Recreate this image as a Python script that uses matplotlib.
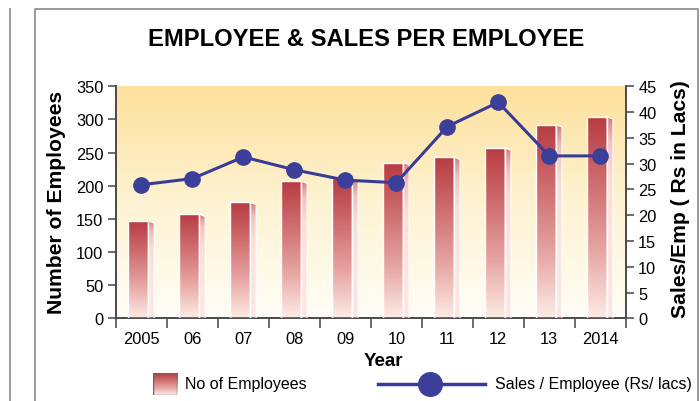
import numpy as np
import matplotlib
matplotlib.use("Agg")
import matplotlib.pyplot as plt
from matplotlib.patches import Polygon, Rectangle
from matplotlib.lines import Line2D
from matplotlib.colors import LinearSegmentedColormap

plt.rcParams['font.family'] = ['Liberation Sans', 'DejaVu Sans']

# ---- data ----
years = ["2005", "06", "07", "08", "09", "10", "11", "12", "13", "2014"]
employees = [147, 157, 175, 207, 211, 235, 243, 257, 292, 304]
sales_per_emp = [25.9, 27.1, 31.3, 28.8, 26.8, 26.3, 37.2, 41.9, 31.5, 31.5]

W, H = 700, 402
fig = plt.figure(figsize=(W / 100, H / 100), dpi=100)
fig.patch.set_facecolor("white")

def fx(px):
    return px / W

def fy(py):
    return 1 - py / H

# panel borders
fig.add_artist(Line2D([fx(9.5), fx(9.5)], [fy(10), 0], color="#8a8a8a", lw=1.2))
fig.add_artist(Line2D([fx(34.5), fx(34.5), fx(698), fx(698)], [0, fy(9.5), fy(9.5), 0],
                      color="#8a8a8a", lw=1.2))

ax_l, ax_r, ax_t, ax_b = 116, 625.7, 87.3, 319.3
ax = fig.add_axes([fx(ax_l), fy(ax_b), fx(ax_r - ax_l), (ax_b - ax_t) / H])

# background gradient
bg_cmap = LinearSegmentedColormap.from_list("bg", ["#fffdf6", "#fef3d2", "#fde09c"])
grad = np.linspace(0, 1, 256).reshape(-1, 1)
ax.imshow(grad, cmap=bg_cmap, aspect="auto", extent=[0, 1, 0, 1],
          transform=ax.transAxes, origin="lower", zorder=0)

x = np.arange(len(years))
ax.set_xlim(-0.5, len(years) - 0.5)
ax.set_ylim(0, 350)

front_cmap = LinearSegmentedColormap.from_list("front", ["#fdebe6", "#e6a5a3", "#cf6e70", "#b63b43"])
side_cmap = LinearSegmentedColormap.from_list("side", ["#fde6e0", "#fbdcd6", "#f1c2be", "#cf7a7c"])

bar_w = 0.39
side_w = 0.115
drop = 3.5
bars = ax.bar(x - 0.06, employees, width=bar_w, color="none", edgecolor="white",
              linewidth=1.0, zorder=3)
for b in bars:
    x0, y0 = b.get_x(), b.get_y()
    w, h = b.get_width(), b.get_height()
    im = ax.imshow(grad, cmap=front_cmap, aspect="auto", extent=[x0, x0 + w, 0, h],
                   origin="lower", zorder=2)
    im.set_clip_path(b)
    poly = Polygon([(x0 + w, h), (x0 + w + side_w, h - drop), (x0 + w + side_w, 0), (x0 + w, 0)],
                   closed=True, facecolor="none", edgecolor="white", lw=0.8, zorder=3)
    ax.add_patch(poly)
    im2 = ax.imshow(grad ** 3, cmap=side_cmap, aspect="auto",
                    extent=[x0 + w, x0 + w + side_w, 0, h], origin="lower", zorder=2)
    im2.set_clip_path(poly)

ax.set_xlim(-0.5, len(years) - 0.5)
ax.set_ylim(0, 350)
ax.set_yticks(np.arange(0, 351, 50))
ax.set_xticks(x)
ax.set_xticklabels(years)
ax.set_xticks(np.arange(-0.5, len(years), 1), minor=True)
ax.tick_params(axis="x", which="major", length=0, pad=9, labelsize=11.8)
ax.tick_params(axis="x", which="minor", length=7, width=1.1, direction="out", color="#444444")
ax.tick_params(axis="y", length=6, width=1.1, direction="out", color="#444444", labelsize=11.8, pad=3)

for s in ["top", "right"]:
    ax.spines[s].set_visible(False)
for s in ["left", "bottom"]:
    ax.spines[s].set_color("#4a4a4a")
    ax.spines[s].set_linewidth(1.4)

ax2 = ax.twinx()
ax2.set_ylim(0, 45)
ax2.set_yticks(np.arange(0, 46, 5))
ax2.plot(x, sales_per_emp, color="#393c96", lw=2.2, marker="o", ms=11,
         markerfacecolor="#3b3f99", markeredgecolor="#3b3f99", zorder=5)
ax2.tick_params(axis="y", length=6, width=1.1, direction="out", color="#444444", labelsize=11.8, pad=3)
for s in ["top", "left", "bottom"]:
    ax2.spines[s].set_visible(False)
ax2.spines["right"].set_color("#4a4a4a")
ax2.spines["right"].set_linewidth(1.4)
ax2.patch.set_visible(False)

# texts
fig.text(fx(366), fy(40), "EMPLOYEE & SALES PER EMPLOYEE", ha="center", va="center",
         fontsize=17.1, fontweight="bold")
fig.text(fx(57), fy(202), "Number of Employees", rotation=90, ha="center", va="center",
         fontsize=15.2, fontweight="bold")
fig.text(fx(681), fy(199), "Sales/Emp ( Rs in Lacs)", rotation=90, ha="center", va="center",
         fontsize=15.2, fontweight="bold")
fig.text(fx(383), fy(362), "Year", ha="center", va="center", fontsize=13.5, fontweight="bold")

# legend
lax = fig.add_axes([fx(153), fy(396), fx(24), 22 / H])
lax.imshow(grad, cmap=front_cmap, aspect="auto", extent=[0, 1, 0, 1], origin="lower")
lax.add_patch(Rectangle((0, 0), 1, 1, fill=False, edgecolor="#666666", lw=1.0,
                        transform=lax.transAxes))
lax.set_axis_off()
fig.text(fx(185), fy(385), "No of Employees", ha="left", va="center", fontsize=11.5)
fig.add_artist(Line2D([fx(378), fx(485)], [fy(385), fy(385)], color="#393c96", lw=2.5))
fig.add_artist(Line2D([fx(430)], [fy(385)], color="#3b3f99", marker="o", ms=17, lw=0))
fig.text(fx(495), fy(385), "Sales / Employee (Rs/ lacs)", ha="left", va="center", fontsize=11.5)

fig.savefig("out.png", dpi=100)
